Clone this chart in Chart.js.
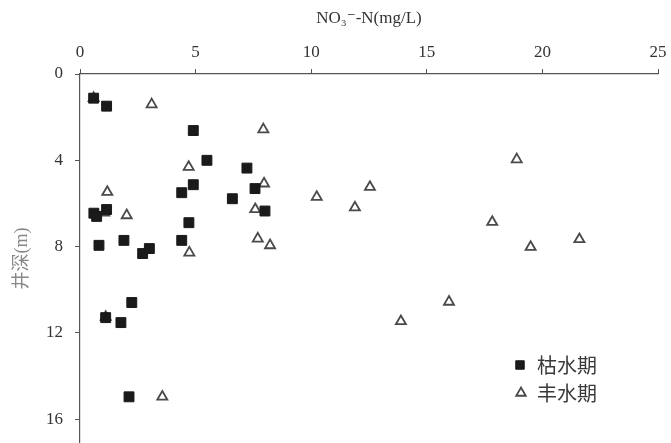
<!DOCTYPE html>
<html>
<head>
<meta charset="utf-8">
<script src="https://cdn.jsdelivr.net/npm/chart.js@4/dist/chart.umd.min.js"></script>
<style>
  html, body { margin: 0; padding: 0; background: #fff; }
  #wrap { position: relative; width: 671px; height: 443px; }
</style>
</head>
<body>
<div id="wrap"><canvas id="c" width="671" height="443"></canvas></div>
<script>
// ---- data ----
const xTickValues = [0, 5, 10, 15, 20, 25];
const yTickValues = [0, 4, 8, 12, 16];
const seriesNames = ['枯水期', '丰水期'];
const xTitle = 'NO₃⁻-N(mg/L)';
const yTitle = '井深(m)';

// 枯水期 (dry season): NO3-N (mg/L)
const dryNO3 = [0.59, 1.15, 4.90, 5.49, 7.22, 4.90, 4.40, 7.57, 6.59, 8.00, 0.60, 0.72, 1.15, 4.71, 0.82, 1.90, 4.40, 2.71, 3.00, 2.24, 1.11, 1.77, 2.12];
// 枯水期 well depth (m)
const dryDepth = [1.12, 1.49, 2.62, 4.00, 4.36, 5.13, 5.50, 5.31, 5.78, 6.35, 6.45, 6.60, 6.28, 6.89, 7.94, 7.71, 7.71, 8.32, 8.09, 10.59, 11.29, 11.52, 14.96];

// 丰水期 (wet season): NO3-N (mg/L)
const wetNO3 = [0.59, 3.10, 7.93, 4.70, 1.18, 7.96, 10.24, 1.05, 2.02, 7.58, 7.69, 8.22, 4.73, 1.11, 3.56, 12.54, 11.89, 18.89, 17.83, 19.49, 21.60, 15.96, 13.88];
// 丰水期 well depth (m)
const wetDepth = [1.12, 1.41, 2.57, 4.31, 5.47, 5.08, 5.70, 6.43, 6.55, 6.27, 7.63, 7.94, 8.28, 11.26, 14.96, 5.24, 6.19, 3.96, 6.86, 8.02, 7.66, 10.56, 11.46];

const toPoints = (xs, ys) => xs.map((x, i) => ({ x: x, y: ys[i] }));

const serif = '"Liberation Serif", "DejaVu Serif", serif';
const cjk = '"Liberation Serif", "Noto Sans CJK SC", serif';

const legendPlugin = {
  id: 'innerLegend',
  afterDatasetsDraw(chart) {
    const ctx = chart.ctx;
    const items = [
      { ds: chart.data.datasets[0], x: 520, y: 365 },
      { ds: chart.data.datasets[1], x: 521, y: 393 }
    ];
    ctx.save();
    items.forEach(it => {
      const ds = it.ds;
      ctx.fillStyle = ds.backgroundColor;
      ctx.strokeStyle = ds.borderColor;
      ctx.lineWidth = ds.borderWidth;
      Chart.helpers.drawPoint(ctx, {
        pointStyle: ds.pointStyle,
        radius: ds.legendRadius,
        rotation: 0,
        borderWidth: ds.borderWidth
      }, it.x, it.y);
      ctx.fillStyle = '#3a3a3a';
      ctx.font = '20px "Noto Sans CJK SC", sans-serif';
      ctx.textAlign = 'left';
      ctx.textBaseline = 'middle';
      ctx.fillText(ds.label, 537, it.y);
    });
    ctx.restore();
  }
};

new Chart(document.getElementById('c'), {
  type: 'scatter',
  data: {
    datasets: [
      {
        label: seriesNames[0],
        data: toPoints(dryNO3, dryDepth),
        pointStyle: 'rect',
        pointRadius: 7,
        legendRadius: 6,
        backgroundColor: '#1a1a1a',
        borderColor: '#1a1a1a',
        borderWidth: 1
      },
      {
        label: seriesNames[1],
        data: toPoints(wetNO3, wetDepth),
        pointStyle: 'triangle',
        pointRadius: 5.8,
        legendRadius: 5.5,
        backgroundColor: '#ffffff',
        borderColor: '#4a4a4a',
        borderWidth: 1.8
      }
    ]
  },
  options: {
    responsive: false,
    animation: false,
    layout: { autoPadding: false, padding: { left: 0, top: 0, right: 13, bottom: 0 } },
    plugins: {
      legend: { display: false },
      tooltip: { enabled: false }
    },
    scales: {
      x: {
        type: 'linear',
        position: 'top',
        min: 0,
        max: 25,
        afterBuildTicks(scale) { scale.ticks = xTickValues.map(v => ({ value: v })); },
        afterFit(scale) { scale.height = 74; scale.paddingLeft = 0; scale.paddingRight = 0; scale.paddingTop = 0; scale.paddingBottom = 0; },
        grid: { drawOnChartArea: false, drawTicks: true, tickLength: 5, tickColor: '#555', tickWidth: 1 },
        border: { display: true, color: '#555', width: 1.2 },
        ticks: { color: '#333', padding: 6, font: { family: serif, size: 17 }, maxRotation: 0 },
        title: { display: true, text: xTitle, color: '#333', font: { family: serif, size: 17 }, padding: { top: 8, bottom: 0 } }
      },
      y: {
        type: 'linear',
        reverse: true,
        min: 0,
        max: 17.1,
        afterBuildTicks(scale) { scale.ticks = yTickValues.map(v => ({ value: v })); },
        afterFit(scale) { scale.width = 80; scale.paddingTop = 0; scale.paddingBottom = 0; scale.paddingLeft = 0; scale.paddingRight = 0; },
        grid: { drawOnChartArea: false, drawTicks: true, tickLength: 5, tickColor: '#555', tickWidth: 1 },
        border: { display: true, color: '#555', width: 1.2 },
        ticks: { color: '#333', padding: 12, font: { family: serif, size: 17 } },
        title: { display: true, text: yTitle, color: '#888', font: { family: cjk, size: 18 }, padding: { top: 11, bottom: 0 } }
      }
    }
  },
  plugins: [legendPlugin]
});
</script>
</body>
</html>
